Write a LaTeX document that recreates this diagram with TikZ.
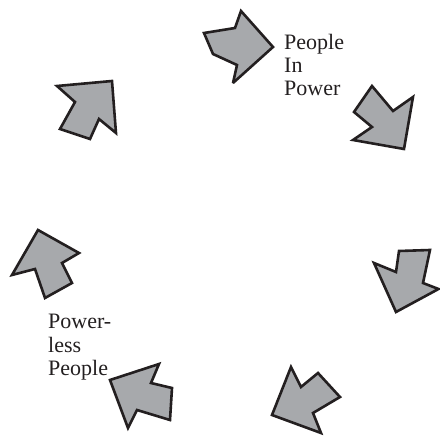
\documentclass[tikz,border=0pt]{standalone}
\usepackage{fontspec}
\setmainfont{Liberation Serif}
\definecolor{arrowfill}{RGB}{167,169,172}
\definecolor{inkdark}{RGB}{35,31,32}
\tikzset{
  cyclearrow/.style={fill=arrowfill, draw=inkdark, line width=2.6pt, line join=miter, miter limit=3},
  labeltext/.style={inner sep=0pt, anchor=base west, align=left, text=inkdark,
    font=\fontsize{22}{23.5}\selectfont}
}
\begin{document}
\begin{tikzpicture}[x=1pt,y=-1pt]
\useasboundingbox (0,0) rectangle (440,436);
% arrows
\draw[cyclearrow] (204,33) -- (235,28) -- (241,11) -- (273,47) -- (233,83) -- (237,65) -- (213,54) -- cycle;
\draw[cyclearrow] (372,86) -- (393,111) -- (413,97) -- (404,149) -- (353,140) -- (372,127) -- (354,112) -- cycle;
\draw[cyclearrow] (399,251) -- (430,250) -- (423,283) -- (438.5,289) -- (396,312) -- (374,263) -- (396,272) -- cycle;
\draw[cyclearrow] (291,367) -- (301,387) -- (318,373) -- (340,397) -- (313,413) -- (321,433) -- (272,415) -- cycle;
\draw[cyclearrow] (159,364) -- (151,383) -- (172,388) -- (170,420) -- (137,410) -- (128,428) -- (110,380) -- cycle;
\draw[cyclearrow] (38,230) -- (79,253) -- (62,263) -- (72,283) -- (45,298) -- (35,269) -- (12,275) -- cycle;
\draw[cyclearrow] (57,86) -- (112,81) -- (116,133) -- (99,119) -- (90,139) -- (60,129) -- (75,102) -- cycle;
% labels (anchored at the baseline of the last line)
\node[labeltext] (inpower) at (284,96) {People\\In\\Power};
\node[labeltext] (powerless) at (48,375.5) {Power-\\less\\People};
\end{tikzpicture}
\end{document}
